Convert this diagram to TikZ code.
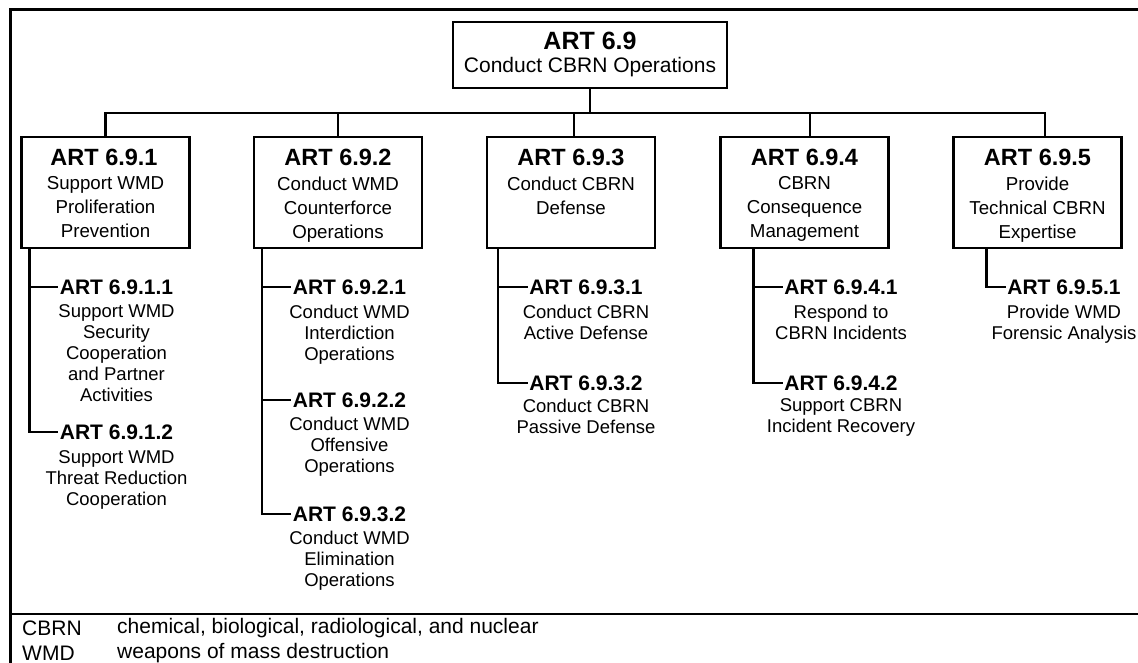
\documentclass[tikz,border=0pt]{standalone}
\usepackage{fontspec}
\setmainfont{Liberation Sans}
\usetikzlibrary{calc}
\tikzset{
  framel/.style={line width=3pt},
  link/.style={line width=2.4pt},
  boxed/.style={draw, line width=2.4pt, inner sep=0pt},
  rootttl/.style={font=\bfseries\fontsize{25}{25}\selectfont, inner sep=0pt},
  rootdesc/.style={font=\fontsize{21}{24}\selectfont, inner sep=0pt},
  onettl/.style={font=\bfseries\fontsize{23.5}{24}\selectfont, inner sep=0pt},
  onedesc/.style={font=\fontsize{18.7}{24}\selectfont, align=center, inner sep=0pt, anchor=north},
  twottl/.style={font=\bfseries\fontsize{21}{21}\selectfont, inner sep=1.5pt},
  twodesc/.style={font=\fontsize{18.5}{21}\selectfont, align=center, inner sep=0pt, anchor=north},
  legend/.style={font=\fontsize{21}{21}\selectfont, inner sep=0pt, anchor=west},
}
\begin{document}
\begin{tikzpicture}[x=1pt,y=-1pt]
\useasboundingbox (0,0) rectangle (1138,663);
% frame
\draw[framel] (10,663) -- (10,10) -- (1138,10);
\draw[line width=2.6pt] (10,614) -- (1138,614);
% root
\node[boxed, minimum width=274pt, minimum height=66pt] (root) at (590,55) {};
\node[rootttl] (rootT) at (590,41) {ART 6.9};
\node[rootdesc] (rootD) at (590,67) {Conduct CBRN Operations};
% level one boxes
\foreach \n/\x in {1/105.5,2/338,3/571,4/804.5,5/1037.5}{
  \node[boxed, minimum width=168pt, minimum height=111pt] (b\n) at (\x,192.5) {};
}
\node[onettl] (b1t) at (104,157) {ART 6.9.1};
\node[onedesc] (b1d) at (105.5,176.3) {Support WMD\\Proliferation\\Prevention};
\node[onettl] (b2t) at (338,157) {ART 6.9.2};
\node[onedesc] (b2d) at (338,176.3) {Conduct WMD\\Counterforce\\Operations};
\node[onettl] (b3t) at (571,157) {ART 6.9.3};
\node[onedesc] (b3d) at (571,176.3) {Conduct CBRN\\Defense};
\node[onettl] (b4t) at (804.5,157) {ART 6.9.4};
\node[onedesc] (b4d) at (804.5,176.3) {CBRN\\Consequence\\Management};
\node[onettl] (b5t) at (1037.5,157) {ART 6.9.5};
\node[onedesc] (b5d) at (1037.5,176.3) {Provide\\Technical CBRN\\Expertise};
% bus
\coordinate (bus) at (0,113);
\draw[link] (root.south) -- (root.south |- bus);
\draw[link] (b1.north) -- (b1.north |- bus) -- ([xshift=7.5pt]b5.north |- bus) -- ([xshift=7.5pt]b5.north);
\draw[link] (b2.north) -- (b2.north |- bus);
\draw[link] ([xshift=3pt]b3.north) -- ([xshift=3pt]b3.north |- bus);
\draw[link] ([xshift=5.5pt]b4.north) -- ([xshift=5.5pt]b4.north |- bus);
% level two
\node[twottl] (t11) at (116.5,287) {ART 6.9.1.1};
\node[twodesc] (d11) at (116.5,304.4) {Support WMD\\Security\\Cooperation\\and Partner\\Activities};
\node[twottl] (t12) at (116.5,432) {ART 6.9.1.2};
\node[twodesc] (d12) at (116.5,450.4) {Support WMD\\Threat Reduction\\Cooperation};
\node[twottl] (t21) at (349.5,287) {ART 6.9.2.1};
\node[twodesc] (d21) at (349.5,304.4) {Conduct WMD\\Interdiction\\Operations};
\node[twottl] (t22) at (349.5,400) {ART 6.9.2.2};
\node[twodesc] (d22) at (349.5,416.4) {Conduct WMD\\Offensive\\Operations};
\node[twottl] (t23) at (349.5,514) {ART 6.9.3.2};
\node[twodesc] (d23) at (349.5,530.4) {Conduct WMD\\Elimination\\Operations};
\node[twottl] (t31) at (586,287) {ART 6.9.3.1};
\node[twodesc] (d31) at (586,304.4) {Conduct CBRN\\Active Defense};
\node[twottl] (t32) at (586,383) {ART 6.9.3.2};
\node[twodesc] (d32) at (586,398.4) {Conduct CBRN\\Passive Defense};
\node[twottl] (t41) at (841,287) {ART 6.9.4.1};
\node[twodesc] (d41) at (841,304.4) {Respond to\\CBRN Incidents};
\node[twottl] (t42) at (841,383) {ART 6.9.4.2};
\node[twodesc] (d42) at (841,398.4) {Support CBRN\\Incident Recovery};
\node[twottl] (t51) at (1064,287) {ART 6.9.5.1};
\node[twodesc] (d51) at (1064,304.4) {Provide WMD\\Forensic Analysis};
% level two connectors
\coordinate (v1) at ($(b1.south west)+(9,0)$);
\coordinate (v2) at ($(b2.south west)+(9,0)$);
\coordinate (v3) at ($(b3.south west)+(12,0)$);
\coordinate (v4) at ($(b4.south west)+(34,0)$);
\coordinate (v5) at ($(b5.south west)+(34,0)$);
\draw[link] (v1) |- (t12.west);
\draw[link] (v1 |- t11.west) -- (t11.west);
\draw[link] (v2) |- (t23.west);
\draw[link] (v2 |- t21.west) -- (t21.west);
\draw[link] (v2 |- t22.west) -- (t22.west);
\draw[link] (v3) |- (t32.west);
\draw[link] (v3 |- t31.west) -- (t31.west);
\draw[link] (v4) |- (t42.west);
\draw[link] (v4 |- t41.west) -- (t41.west);
\draw[link] (v5) |- (t51.west);
% legend
\node[legend] (k1) at (22,628) {CBRN};
\node[legend] (e1) at (117,628) {chemical, biological, radiological, and nuclear};
\node[legend] (k2) at (22,653) {WMD};
\node[legend] (e2) at (117,653) {weapons of mass destruction};
\end{tikzpicture}
\end{document}
